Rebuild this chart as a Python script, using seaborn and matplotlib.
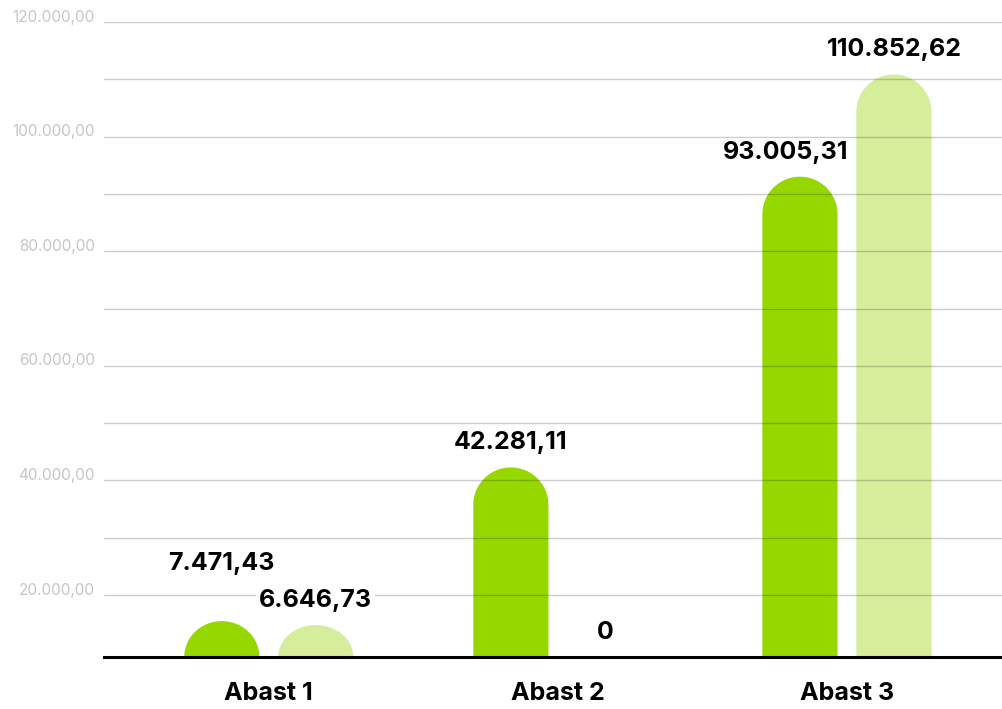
import numpy as np
import pandas as pd
import matplotlib
matplotlib.use("Agg")
import matplotlib.pyplot as plt
import seaborn as sns
from matplotlib.path import Path
from matplotlib.patches import PathPatch
from matplotlib.transforms import ScaledTranslation

# ---------------- data ----------------
categories = ["Abast 1", "Abast 2", "Abast 3"]
series_names = ["Série A", "Série B"]
green_values = [7471.43, 42281.11, 93005.31]
light_values = [6646.73, 0.0, 110852.62]
y_ticks = [20000, 40000, 60000, 80000, 100000, 120000]

GREEN = "#97D700"
LIGHT = "#D6EE9B"
colors = [GREEN, LIGHT]


def br_fmt(v, decimals=2):
    if v == 0:
        return "0"
    s = f"{v:,.{decimals}f}"
    return s.replace(",", "X").replace(".", ",").replace("X", ".")


df = pd.DataFrame({
    "cat": categories * 2,
    "serie": [series_names[0]] * len(categories) + [series_names[1]] * len(categories),
    "value": green_values + light_values,
})

sns.set_theme(style="white")
plt.rcParams["font.family"] = ["Inter", "DejaVu Sans"]

W, H = 1003, 709
fig = plt.figure(figsize=(W / 100, H / 100), dpi=100)
ax = fig.add_axes([104 / W, 52 / H, 899 / W, 635 / H])

sns.barplot(data=df, x="cat", y="value", hue="serie", palette=colors, saturation=1,
            width=0.65, gap=0.2, ax=ax, legend=False, err_kws={"linewidth": 0})

ymin, ymax = 9200, 120000
ax.set_ylim(ymin, ymax)
ax.set_xlim(-0.57, 2.54)

# pixel scale
ppy = (ax.transData.transform((0, ymax))[1] - ax.transData.transform((0, ymin))[1]) / (ymax - ymin)
ppx = ax.transData.transform((1, 0))[0] - ax.transData.transform((0, 0))[0]

# replace bars by rounded-top shapes
bars = list(ax.patches)
label_info = []
bar_extents = []
for p in bars:
    x, w, h = p.get_x(), p.get_width(), p.get_height()
    fc = p.get_facecolor()
    p.remove()
    xc = x + w / 2
    if h <= 0:
        label_info.append((xc, ymin, h))
        continue
    r_px = w * ppx / 2
    hp = (h - ymin) * ppy
    if hp >= r_px:
        b = r_px / ppy
        yb = h - b
    else:
        ch_px = r_px * min(1.0, h / (0.85 * ymin))
        b = ch_px / ppy
        yb = ymin
    t = np.linspace(np.pi, 0, 60)
    xs = np.concatenate([[x, x], xc + (w / 2) * np.cos(t), [x + w, x]])
    ys = np.concatenate([[ymin - 5000, yb], yb + b * np.sin(t), [ymin - 5000, ymin - 5000]])
    verts = np.column_stack([xs, ys])
    codes = [Path.MOVETO] + [Path.LINETO] * (len(verts) - 2) + [Path.CLOSEPOLY]
    patch = PathPatch(Path(verts, codes), facecolor=fc, edgecolor="none", zorder=2)
    ax.add_patch(patch)
    label_info.append((xc, yb + b, h))
    bar_extents.append((x, x + w, yb + b))

# grid lines on top (semi-transparent)
ax.set_yticks(y_ticks)
ax.set_yticks([v + 10000 for v in y_ticks[:-1]], minor=True)
ax.yaxis.grid(True, which="both", color="black", alpha=0.2, linewidth=1.0, zorder=3)
ax.set_axisbelow(False)

ax.set_yticklabels([br_fmt(v) for v in y_ticks], fontsize=11,
                   fontweight="normal", color="#C6C6C6")
ax.tick_params(axis="y", which="both", length=0, pad=6.5)
for lab in ax.get_yticklabels():
    lab.set_transform(lab.get_transform() + ScaledTranslation(0, 6.5 / 100, fig.dpi_scale_trans))

ax.set_xlabel("")
ax.set_ylabel("")
ax.set_xticks(range(len(categories)))
ax.set_xticklabels(categories, fontsize=18, fontweight="bold", color="black")
ax.tick_params(axis="x", length=0, pad=18)

for s in ["top", "left", "right"]:
    ax.spines[s].set_visible(False)
ax.spines["bottom"].set_color("black")
ax.spines["bottom"].set_linewidth(2.2)
ax.spines["bottom"].set_zorder(5)

# value labels
anns = []
for (xc, ytop, v) in label_info:
    a = ax.annotate(br_fmt(v), xy=(xc, ytop), xytext=(0, 13), textcoords="offset points",
                    ha="center", va="baseline", fontsize=18, fontweight="bold",
                    color="black", zorder=6, annotation_clip=False,
                    bbox=dict(facecolor="white", edgecolor="none", pad=2))
    anns.append(a)

fig.canvas.draw()
renderer = fig.canvas.get_renderer()

# keep labels off neighbouring bars (shift horizontally)
for a in anns:
    bb = a.get_window_extent(renderer)
    for (x0, x1, top) in bar_extents:
        px0 = ax.transData.transform((x0, 0))[0]
        ptop = ax.transData.transform((0, top))[1]
        if ptop > bb.y0 and bb.x1 > px0 and bb.x0 + bb.width / 2 < px0:
            shift = bb.x1 - px0 + 8
            ox, oy = a.xyann
            a.xyann = (ox - shift * 72 / 100, oy)

# avoid overlap of labels within the same group
n = len(categories)
for i in range(n):
    a1, a2 = anns[i], anns[i + n]
    b1 = a1.get_window_extent(renderer)
    b2 = a2.get_window_extent(renderer)
    if b1.overlaps(b2):
        upper, lower = (a1, a2) if b1.y0 >= b2.y0 else (a2, a1)
        bu = upper.get_window_extent(renderer)
        bl = lower.get_window_extent(renderer)
        shift_px = bl.y1 - bu.y0 + 14
        ox, oy = upper.xyann
        upper.xyann = (ox, oy + shift_px * 72 / 100)

fig.savefig("out.png", dpi=100, facecolor="white")
